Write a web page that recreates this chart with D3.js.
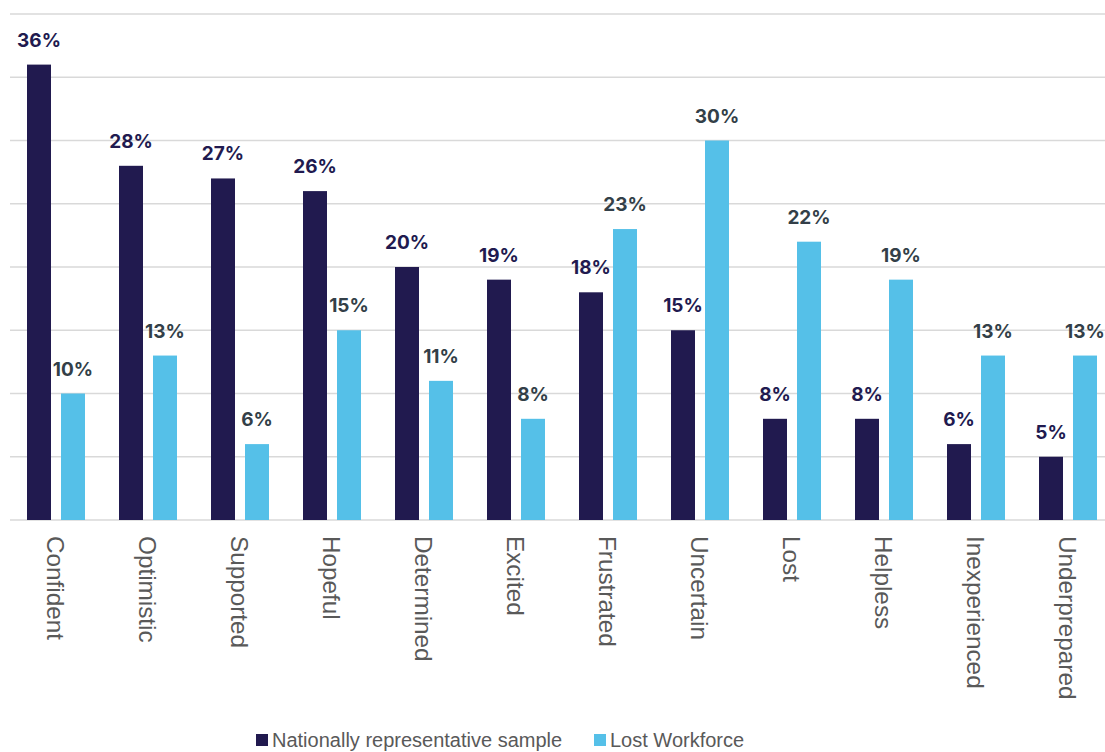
<!DOCTYPE html>
<html>
<head>
<meta charset="utf-8">
<script src="https://cdn.jsdelivr.net/npm/d3@7"></script>
<style>
  html, body { margin: 0; padding: 0; background: #ffffff; }
  svg { display: block; }
</style>
</head>
<body>
<svg id="chart" width="1105" height="752"></svg>
<script>
// Feelings about the future of work: two survey groups
const categories = ["Confident", "Optimistic", "Supported", "Hopeful", "Determined", "Excited",
  "Frustrated", "Uncertain", "Lost", "Helpless", "Inexperienced", "Underprepared"];
const seriesNames = ["Nationally representative sample", "Lost Workforce"];
const nationalValues = [36, 28, 27, 26, 20, 19, 18, 15, 8, 8, 6, 5];
const lostWorkforceValues = [10, 13, 6, 15, 11, 8, 23, 30, 22, 19, 13, 13];
const gridTicks = [0, 5, 10, 15, 20, 25, 30, 35, 40];

const colors = ["#211a4f", "#55c0e8"];
const labelColors = ["#211a4f", "#333f48"];

const svg = d3.select("#chart");
const W = 1105;

const y = d3.scaleLinear().domain([0, 40]).range([520, 14]);
const x0 = d3.scaleBand().domain(categories).range([10, 1114]).paddingInner(0).paddingOuter(0);
const x1 = d3.scaleBand().domain(seriesNames).range([17, 75]).paddingInner(10 / 34).paddingOuter(0);

// horizontal gridlines
svg.append("g")
  .selectAll("line")
  .data(gridTicks)
  .join("line")
  .attr("x1", 10)
  .attr("x2", W)
  .attr("y1", d => y(d))
  .attr("y2", d => y(d))
  .attr("stroke", "#d9d9d9")
  .attr("stroke-width", 1.5);

const rows = categories.map((c, i) => ({
  cat: c,
  vals: [nationalValues[i], lostWorkforceValues[i]]
}));

const groups = svg.append("g")
  .selectAll("g")
  .data(rows)
  .join("g")
  .attr("transform", d => `translate(${x0(d.cat)},0)`);

const bars = groups.selectAll("g.bar")
  .data(d => d.vals.map((v, k) => ({ v, k, s: seriesNames[k] })))
  .join("g")
  .attr("class", "bar");

bars.append("rect")
  .attr("x", d => x1(d.s))
  .attr("width", x1.bandwidth())
  .attr("y", d => y(d.v))
  .attr("height", d => y(0) - y(d.v))
  .attr("fill", d => colors[d.k]);

bars.append("text")
  .attr("x", d => x1(d.s) + x1.bandwidth() / 2)
  .attr("y", d => y(d.v) - 18)
  .attr("text-anchor", "middle")
  .attr("font-family", "Inter, 'Liberation Sans', Arial, sans-serif")
  .attr("font-weight", 700)
  .attr("font-size", 19)
  .attr("fill", d => labelColors[d.k])
  .text(d => d.v + "%");

// rotated category labels
svg.append("g")
  .selectAll("text")
  .data(categories)
  .join("text")
  .attr("transform", d => `translate(${x0(d) + x0.bandwidth() / 2},536) rotate(90)`)
  .attr("dy", "0.35em")
  .attr("font-family", "'Liberation Sans', Arial, sans-serif")
  .attr("font-size", 24.3)
  .attr("fill", "#595959")
  .text(d => d);

// legend
const legendItems = [
  { name: seriesNames[0], color: colors[0], x: 256 },
  { name: seriesNames[1], color: colors[1], x: 594 }
];
const legend = svg.append("g")
  .selectAll("g")
  .data(legendItems)
  .join("g")
  .attr("transform", d => `translate(${d.x},734)`);
legend.append("rect")
  .attr("width", 12)
  .attr("height", 12)
  .attr("fill", d => d.color);
legend.append("text")
  .attr("x", 16)
  .attr("y", 13)
  .attr("font-family", "'Liberation Sans', Arial, sans-serif")
  .attr("font-size", 20)
  .attr("fill", "#595959")
  .text(d => d.name);
</script>
</body>
</html>
